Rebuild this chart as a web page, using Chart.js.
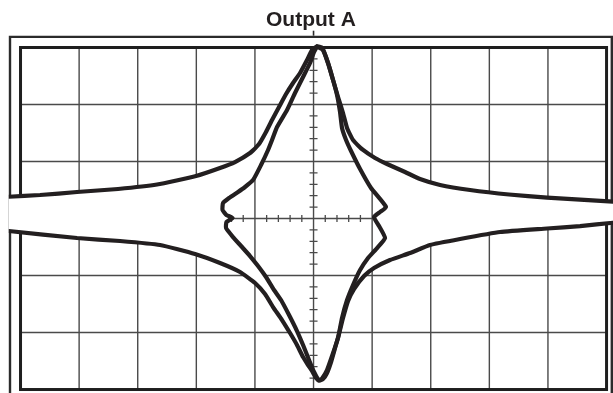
<!DOCTYPE html>
<html>
<head>
<meta charset="utf-8">
<title>Output A</title>
<script src="https://cdn.jsdelivr.net/npm/chart.js@4.4.1/dist/chart.umd.min.js"></script>
<style>
  html, body { margin: 0; padding: 0; background: #fff; }
  #wrap { width: 613px; height: 393px; }
</style>
</head>
<body>
<div id="wrap"><canvas id="scope"></canvas></div>
<script>
// graticule divisions (10 x 6), minor ticks every 0.2 div on the centre axes
const xDivs = [-5, -4, -3, -2, -1, 0, 1, 2, 3, 4, 5];
const yDivs = [-3, -2, -1, 0, 1, 2, 3];
const minorStep = 0.2;

// upper trace, left bezel -> right bezel (values in divisions)
const upperX = [-5.2, -4.667, -4.036, -3.336, -2.671, -2.005, -1.596, -1.340, -1.084, -0.930, -0.811, -0.708, -0.589, -0.469, -0.350, -0.230, -0.111, -0.026, 0.060, 0.145, 0.247, 0.333, 0.418, 0.503, 0.572, 0.674, 0.845, 1.049, 1.254, 1.561, 1.817, 2.159, 2.671, 3.336, 3.985, 4.548, 5.11];
const upperY = [0.382, 0.412, 0.465, 0.518, 0.596, 0.746, 0.886, 0.991, 1.149, 1.307, 1.518, 1.728, 1.956, 2.184, 2.377, 2.553, 2.781, 2.956, 3.018, 3.0, 2.728, 2.430, 2.132, 1.851, 1.588, 1.377, 1.202, 1.061, 0.956, 0.816, 0.693, 0.588, 0.5, 0.421, 0.368, 0.333, 0.295];

// lower trace, left bezel -> right bezel
const lowerX = [-5.2, -4.036, -3.302, -2.619, -2.022, -1.596, -1.254, -0.998, -0.828, -0.691, -0.538, -0.401, -0.282, -0.179, -0.094, -0.026, 0.043, 0.094, 0.162, 0.230, 0.299, 0.367, 0.435, 0.503, 0.589, 0.691, 0.862, 1.032, 1.305, 1.647, 1.988, 2.5, 3.183, 3.985, 4.548, 5.11];
const lowerY = [-0.219, -0.342, -0.395, -0.465, -0.623, -0.781, -0.939, -1.132, -1.325, -1.553, -1.781, -2.009, -2.219, -2.430, -2.570, -2.675, -2.798, -2.842, -2.816, -2.711, -2.518, -2.272, -2.026, -1.746, -1.447, -1.237, -1.009, -0.868, -0.728, -0.605, -0.465, -0.360, -0.237, -0.175, -0.132, -0.074];

// inner loop, left side from the peak down to the trough
const innerLeftX = [0.009, -0.060, -0.179, -0.316, -0.452, -0.623, -0.708, -0.776, -0.896, -1.032, -1.169, -1.288, -1.442, -1.544, -1.553, -1.485, -1.382, -1.485, -1.493, -1.374, -1.237, -1.084, -0.947, -0.811, -0.674, -0.555, -0.418, -0.282, -0.179, -0.077, 0.009];
const innerLeftY = [2.921, 2.728, 2.482, 2.202, 1.904, 1.605, 1.377, 1.202, 0.939, 0.675, 0.553, 0.465, 0.360, 0.272, 0.149, 0.061, 0.009, -0.061, -0.167, -0.325, -0.482, -0.658, -0.833, -1.026, -1.254, -1.430, -1.693, -1.974, -2.219, -2.482, -2.693];

// inner loop, right side from the peak down to the trough
const innerRightX = [0.162, 0.247, 0.333, 0.401, 0.452, 0.486, 0.555, 0.640, 0.794, 0.981, 1.237, 1.135, 1.032, 1.118, 1.220, 1.084, 0.930, 0.794, 0.674, 0.572, 0.486, 0.418, 0.316, 0.230, 0.145];
const innerRightY = [2.956, 2.728, 2.430, 2.167, 1.868, 1.588, 1.377, 1.184, 0.868, 0.535, 0.202, 0.114, 0.026, -0.132, -0.342, -0.518, -0.693, -0.904, -1.167, -1.430, -1.746, -2.096, -2.412, -2.658, -2.807];

const ink = "#231f20";

const pts = (xs, ys) => xs.map((v, i) => ({ x: v, y: ys[i] }));
const upper = pts(upperX, upperY);
const lower = pts(lowerX, lowerY);
const innerLeft = pts(innerLeftX, innerLeftY);
const innerRight = pts(innerRightX, innerRightY);

const peakAt = upperY.indexOf(Math.max(...upperY));
const troughAt = lowerY.indexOf(Math.min(...lowerY));
const peak = upper[peakAt];
const trough = lower[troughAt];

const innerLoop = [peak, ...innerLeft, trough, ...innerRight.slice().reverse(), peak];

// white areas between the outer traces and the inner loop (they hide the graticule)
const leftLobe = [...upper.slice(0, peakAt + 1), ...innerLeft, ...lower.slice(0, troughAt + 1).reverse()];
const rightLobe = [...upper.slice(peakAt), ...lower.slice(troughAt).reverse(), ...innerRight.slice().reverse()];

const trace = (data) => ({
  data,
  showLine: true,
  borderColor: ink,
  borderWidth: 4.2,
  borderJoinStyle: "round",
  borderCapStyle: "round",
  tension: 0.15,
  pointRadius: 0,
  fill: false,
});

const mask = (data) => ({
  data,
  showLine: true,
  borderColor: "#fff",
  borderWidth: 1,
  backgroundColor: "#fff",
  tension: 0.15,
  pointRadius: 0,
  fill: "shape",
});

const graticule = {
  id: "graticule",
  beforeDatasetsDraw(chart) {
    const { ctx, chartArea: a, scales: { x, y } } = chart;
    const px = (v) => x.getPixelForValue(v);
    const py = (v) => y.getPixelForValue(v);
    const x0 = px(xDivs[0]), x1 = px(xDivs[xDivs.length - 1]);
    const y0 = py(yDivs[0]), y1 = py(yDivs[yDivs.length - 1]);
    ctx.save();

    // bezel
    ctx.strokeStyle = "#2b2b2b";
    ctx.lineWidth = 2.4;
    ctx.beginPath();
    ctx.moveTo(a.left + 1.2, a.bottom + 5);
    ctx.lineTo(a.left + 1.2, a.top + 1.2);
    ctx.lineTo(a.right - 1.2, a.top + 1.2);
    ctx.lineTo(a.right - 1.2, a.bottom + 5);
    ctx.stroke();
    ctx.lineWidth = 1.6;
    ctx.beginPath();
    ctx.moveTo(px(0), a.top - 5);
    ctx.lineTo(px(0), a.top);
    ctx.stroke();

    // grid
    ctx.strokeStyle = "#4a4a4a";
    ctx.lineWidth = 1.4;
    ctx.beginPath();
    xDivs.slice(1, -1).forEach((v) => {
      ctx.moveTo(px(v), y1);
      ctx.lineTo(px(v), y0);
    });
    yDivs.slice(1, -1).forEach((v) => {
      ctx.moveTo(x0, py(v));
      ctx.lineTo(x1, py(v));
    });
    ctx.stroke();

    // minor ticks on the centre axes
    ctx.lineWidth = 1.3;
    ctx.beginPath();
    for (let v = xDivs[0]; v <= xDivs[xDivs.length - 1] + 1e-6; v += minorStep) {
      if (Math.abs(v - Math.round(v)) < 1e-6) continue;
      ctx.moveTo(px(v), py(0) - 3.5);
      ctx.lineTo(px(v), py(0) + 3.5);
    }
    for (let v = yDivs[0]; v <= yDivs[yDivs.length - 1] + 1e-6; v += minorStep) {
      if (Math.abs(v - Math.round(v)) < 1e-6) continue;
      ctx.moveTo(px(0) - 4, py(v));
      ctx.lineTo(px(0) + 4, py(v));
    }
    ctx.stroke();

    // screen edge
    ctx.strokeStyle = "#1e1e1e";
    ctx.lineWidth = 3;
    ctx.strokeRect(x0, y1, x1 - x0, y0 - y1);
    ctx.restore();
  },
};

new Chart(document.getElementById("scope"), {
  type: "scatter",
  data: {
    datasets: [
      trace(innerLoop),
      trace(upper),
      trace(lower),
      mask(leftLobe),
      mask(rightLobe),
    ],
  },
  options: {
    responsive: true,
    maintainAspectRatio: false,
    animation: false,
    events: [],
    layout: { padding: { left: 8.8, right: 0, top: 0, bottom: 0 } },
    scales: {
      x: { type: "linear", min: -5.2, max: 5.11, display: false },
      y: { type: "linear", min: -3.061, max: 3.207, display: false },
    },
    plugins: {
      legend: { display: false },
      tooltip: { enabled: false },
      title: {
        display: true,
        text: "Output A",
        color: ink,
        font: { family: "'Liberation Sans', Arial, sans-serif", size: 21, weight: "bold" },
        padding: { top: 8, bottom: 2.5 },
      },
    },
  },
  plugins: [graticule],
});
</script>
</body>
</html>
